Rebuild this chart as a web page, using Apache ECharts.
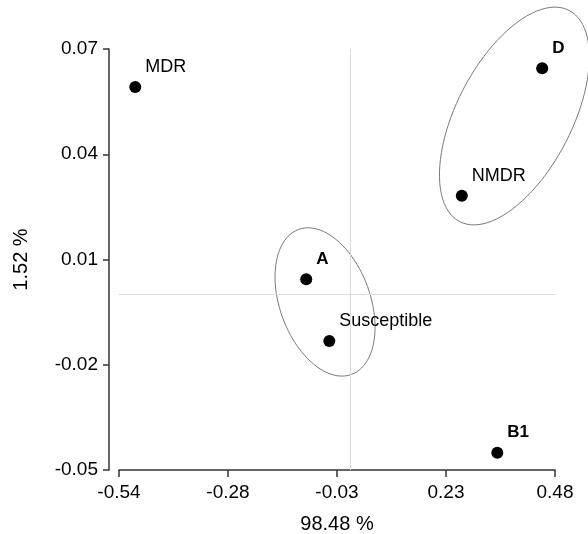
<!DOCTYPE html>
<html>
<head>
<meta charset="utf-8">
<script src="https://cdn.jsdelivr.net/npm/echarts@6/dist/echarts.min.js"></script>
<style>
  html, body { margin: 0; padding: 0; background: #fff; }
  #chart { width: 588px; height: 534px; }
</style>
</head>
<body>
<div id="chart"></div>
<script>
// points of the biplot
const pointNames = ['MDR', 'D', 'NMDR', 'A', 'Susceptible', 'B1'];
const pointX = [-0.502, 0.450, 0.262, -0.102, -0.048, 0.345];
const pointY = [0.0592, 0.0645, 0.0282, 0.0044, -0.0132, -0.0451];
const pointBold = [false, true, false, true, false, true];

// axis ticks
const xTicks = [-0.54, -0.285, -0.03, 0.225, 0.48];
const xTickLabels = ['-0.54', '-0.28', '-0.03', '0.23', '0.48'];
const yTicks = [-0.05, -0.02, 0.01, 0.04, 0.07];
const yTickLabels = ['-0.05', '-0.02', '0.01', '0.04', '0.07'];

// reference lines (origin)
const refX = 0;
const refY = 0.003;

// group ellipses: center x, center y, half axis 1 (dx, dy), half axis 2 (dx, dy)
const ellipseNMDR = [0.385, 0.0509, 0.128, 0.0301, 0.1198, -0.00757];
const ellipseSusc = [-0.058, -0.0021, 0.0618, -0.02067, 0.0994, 0.00441];

const FONT = "'Liberation Sans', Arial, sans-serif";

const chart = echarts.init(document.getElementById('chart'));

const scatterData = pointNames.map((n, i) => ({
    name: n,
    value: [pointX[i], pointY[i]],
    label: { fontWeight: pointBold[i] ? 'bold' : 'normal', fontSize: pointBold[i] ? 17 : 18 }
}));

const renderEllipse = (params, api) => {
    const cx = api.value(0), cy = api.value(1);
    const ux = api.value(2), uy = api.value(3);
    const vx = api.value(4), vy = api.value(5);
    const pts = [];
    for (let k = 0; k < 96; k++) {
        const t = k / 96 * Math.PI * 2;
        pts.push(api.coord([
            cx + ux * Math.cos(t) + vx * Math.sin(t),
            cy + uy * Math.cos(t) + vy * Math.sin(t)
        ]));
    }
    return {
        type: 'polygon',
        shape: { points: pts },
        style: { fill: 'none', stroke: '#7a7a7a', lineWidth: 1 }
    };
};

chart.setOption({
    backgroundColor: '#fff',
    animation: false,
    textStyle: { fontFamily: FONT },
    grid: { left: 119, right: 33, top: 49, bottom: 64, containLabel: false, outerBoundsMode: 'none' },
    xAxis: {
        type: 'value',
        min: -0.54,
        max: 0.48,
        name: '98.48 %',
        nameLocation: 'middle',
        nameGap: 44,
        nameTextStyle: { fontSize: 20, color: '#000', fontFamily: FONT },
        axisLine: { show: true, onZero: false, lineStyle: { color: '#333', width: 1.5 } },
        axisTick: { show: true, length: 7, lineStyle: { color: '#333', width: 1.5 }, customValues: xTicks },
        axisLabel: {
            customValues: xTicks,
            fontSize: 19,
            color: '#000',
            margin: 13,
            fontFamily: FONT,
            formatter: (v) => xTickLabels[xTicks.findIndex(t => Math.abs(t - v) < 1e-6)]
        },
        splitLine: { show: false }
    },
    yAxis: {
        type: 'value',
        min: -0.05,
        max: 0.07,
        offset: 10,
        name: '1.52 %',
        nameLocation: 'middle',
        nameGap: 78,
        nameTextStyle: { fontSize: 20, color: '#000', fontFamily: FONT },
        axisLine: { show: true, onZero: false, lineStyle: { color: '#333', width: 1.5 } },
        axisTick: { show: true, length: 6, lineStyle: { color: '#333', width: 1.5 }, customValues: yTicks },
        axisLabel: {
            customValues: yTicks,
            fontSize: 19,
            color: '#000',
            margin: 11,
            fontFamily: FONT,
            formatter: (v) => yTickLabels[yTicks.findIndex(t => Math.abs(t - v) < 1e-6)]
        },
        splitLine: { show: false }
    },
    series: [
        {
            type: 'custom',
            renderItem: renderEllipse,
            clip: false,
            silent: true,
            encode: { x: 0, y: 1 },
            data: [ellipseNMDR, ellipseSusc],
            z: 1
        },
        {
            type: 'scatter',
            symbol: 'circle',
            symbolSize: 12,
            itemStyle: { color: '#000', opacity: 1 },
            label: {
                show: true,
                position: 'right',
                distance: 0,
                offset: [4, -20],
                color: '#000',
                fontFamily: FONT,
                formatter: (p) => p.name
            },
            data: scatterData,
            markLine: {
                silent: true,
                symbol: 'none',
                label: { show: false },
                lineStyle: { color: '#dcdcdc', width: 1, type: 'solid', opacity: 1 },
                data: [{ xAxis: refX }, { yAxis: refY }]
            },
            z: 3
        }
    ]
});
</script>
</body>
</html>
